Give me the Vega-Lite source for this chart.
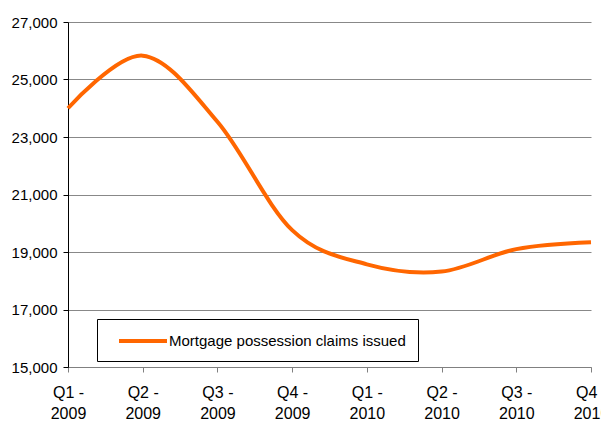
{
  "$schema": "https://vega.github.io/schema/vega-lite/v6.json",
  "width": 523,
  "height": 345,
  "autosize": {"type": "none"},
  "padding": {"left": 68, "top": 22, "right": 10, "bottom": 54},
  "background": "white",
  "data": {
    "values": [
      {"quarter": "Q1 - 2009", "claims": 24000, "series": "Mortgage possession claims issued"},
      {"quarter": "Q2 - 2009", "claims": 25830, "series": "Mortgage possession claims issued"},
      {"quarter": "Q3 - 2009", "claims": 23530, "series": "Mortgage possession claims issued"},
      {"quarter": "Q4 - 2009", "claims": 19760, "series": "Mortgage possession claims issued"},
      {"quarter": "Q1 - 2010", "claims": 18570, "series": "Mortgage possession claims issued"},
      {"quarter": "Q2 - 2010", "claims": 18320, "series": "Mortgage possession claims issued"},
      {"quarter": "Q3 - 2010", "claims": 19100, "series": "Mortgage possession claims issued"},
      {"quarter": "Q4 - 2010", "claims": 19340, "series": "Mortgage possession claims issued"}
    ]
  },
  "mark": {"type": "line", "interpolate": "cardinal", "strokeWidth": 4},
  "encoding": {
    "x": {
      "field": "quarter",
      "type": "ordinal",
      "sort": null,
      "scale": {"type": "point", "padding": 0},
      "axis": {
        "title": null,
        "labelAngle": 0,
        "labelExpr": "[slice(datum.label, 0, 4), slice(datum.label, 5)]",
        "labelFont": "Liberation Sans",
        "labelFontSize": 16,
        "labelLineHeight": 21,
        "labelColor": "black",
        "labelPadding": 12,
        "labelOverlap": false,
        "labelBound": false,
        "tickSize": 5,
        "tickColor": "#808080",
        "domainColor": "#808080",
        "grid": false
      }
    },
    "y": {
      "field": "claims",
      "type": "quantitative",
      "scale": {"domain": [15000, 27000], "nice": false, "zero": false},
      "axis": {
        "title": null,
        "values": [15000, 17000, 19000, 21000, 23000, 25000, 27000],
        "format": ",.0f",
        "labelFont": "Liberation Sans",
        "labelFontSize": 15,
        "labelColor": "black",
        "labelPadding": 6,
        "tickSize": 5,
        "tickColor": "black",
        "domainColor": "black",
        "grid": true,
        "gridColor": "#888888"
      }
    },
    "color": {
      "field": "series",
      "type": "nominal",
      "scale": {"range": ["#FF6600"]},
      "legend": {
        "title": null,
        "orient": "none",
        "legendX": 29,
        "legendY": 297,
        "symbolType": "M-3,0H3",
        "symbolSize": 256,
        "symbolStrokeWidth": 4,
        "symbolOffset": 24,
        "labelOffset": 16,
        "labelFont": "Liberation Sans",
        "labelFontSize": 15,
        "labelColor": "black",
        "labelLimit": 400,
        "padding": 12,
        "strokeColor": "black",
        "fillColor": "white"
      }
    }
  },
  "config": {"view": {"stroke": null}}
}
